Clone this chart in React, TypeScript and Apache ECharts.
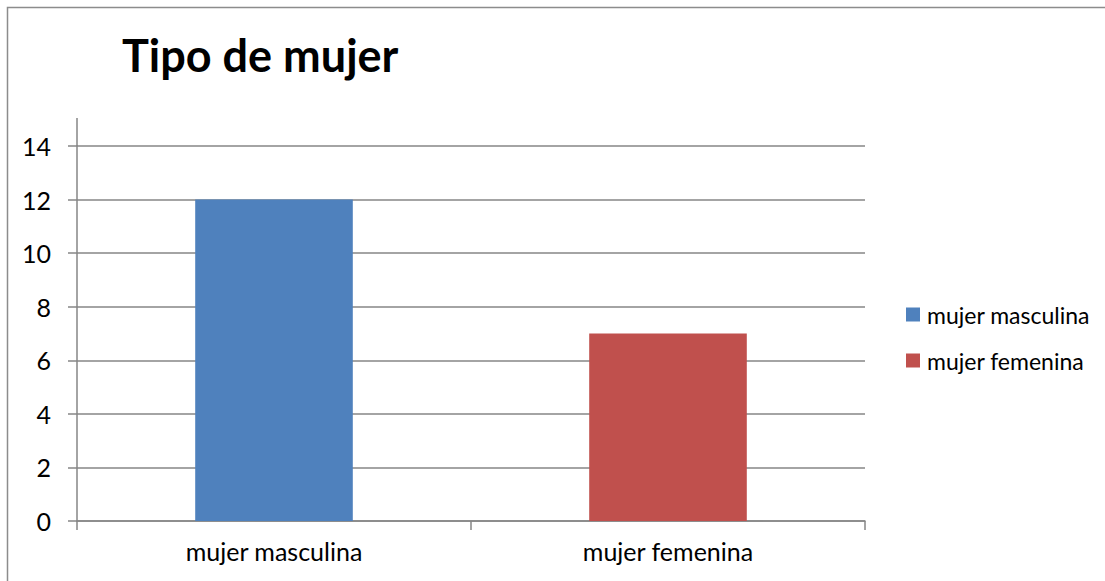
import React, { useEffect, useRef } from "react";
import * as echarts from "echarts";

const categories = ["mujer masculina", "mujer femenina"];
const seriesNames = ["mujer masculina", "mujer femenina"];
const masculinaValues = [12, null];
const femeninaValues = [null, 7];
const colors = ["#4F81BD", "#C0504D"];
const titleText = "Tipo de mujer";

export default function App() {
  const ref = useRef<HTMLDivElement>(null);
  useEffect(() => {
    if (!ref.current) return;
    const chart = echarts.init(ref.current, null, { renderer: "svg" });
    const font = "Lato, 'Open Sans', sans-serif";
    chart.setOption({
      animation: false,
      backgroundColor: "#ffffff",
      title: {
        text: titleText,
        left: 117,
        top: 27,
        textStyle: { fontFamily: font, fontWeight: "bold", fontSize: 45, color: "#000" },
      },
      legend: {
        orient: "vertical",
        left: 901,
        top: 298,
        itemWidth: 14,
        itemHeight: 14,
        itemGap: 23,
        icon: "rect",
        data: seriesNames,
        textStyle: { fontFamily: font, fontSize: 23, color: "#000", padding: [0, 0, 0, 2] },
      },
      grid: { left: 77, right: 240, top: 146, bottom: 60, containLabel: false },
      xAxis: {
        type: "category",
        data: categories,
        axisLine: { lineStyle: { color: "#868686", width: 1.5 } },
        axisTick: { show: true, length: 9, alignWithLabel: false, lineStyle: { color: "#868686", width: 1.5 } },
        axisLabel: { fontFamily: font, fontSize: 25, color: "#000", margin: 17 },
        splitLine: { show: false },
      },
      yAxis: {
        type: "value",
        min: 0,
        max: 14,
        interval: 2,
        axisLine: { show: true, lineStyle: { color: "#868686", width: 1.5 } },
        axisTick: { show: true, length: 9, lineStyle: { color: "#868686", width: 1.5 } },
        axisLabel: { fontFamily: font, fontSize: 25, color: "#000", margin: 26 },
        splitLine: { lineStyle: { color: "#868686", width: 1.5 } },
      },
      series: [
        {
          name: seriesNames[0],
          type: "bar",
          stack: "s",
          data: masculinaValues,
          barWidth: "40%",
          itemStyle: { color: colors[0] },
        },
        {
          name: seriesNames[1],
          type: "bar",
          stack: "s",
          data: femeninaValues,
          barWidth: "40%",
          itemStyle: { color: colors[1] },
        },
      ],
      graphic: [
        {
          type: "rect",
          shape: { x: 7.5, y: 7.5, width: 1300, height: 800 },
          style: { fill: "none", stroke: "#8c8c8c", lineWidth: 1.5 },
          silent: true,
        },
        {
          type: "line",
          shape: { x1: 77, y1: 118, x2: 77, y2: 146 },
          style: { stroke: "#868686", lineWidth: 1.5 },
          silent: true,
        },
      ],
    });
    return () => chart.dispose();
  }, []);
  return (
    <div
      ref={ref}
      style={{ position: "fixed", left: 0, top: 0, width: 1105, height: 581 }}
    />
  );
}
